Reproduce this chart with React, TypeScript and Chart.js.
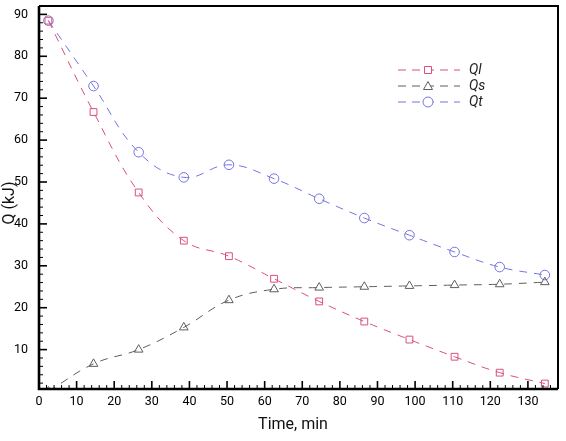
import React, { useEffect, useRef } from "react";
import { Chart, registerables } from "chart.js";

Chart.register(...registerables);

const times = [2.5, 14.5, 26.5, 38.5, 50.5, 62.5, 74.5, 86.5, 98.5, 110.5, 122.5, 134.5];
const qlValues = [88.5, 66.7, 47.5, 36.0, 32.3, 26.9, 21.5, 16.7, 12.4, 8.3, 4.5, 1.9];
const qsValues = [0, 6.6, 10.0, 15.3, 21.8, 24.4, 24.8, 25.0, 25.2, 25.4, 25.6, 26.1];
const qtValues = [88.5, 72.9, 57.1, 51.1, 54.1, 50.8, 46.0, 41.4, 37.3, 33.3, 29.7, 27.8];
const seriesNames = ["Ql", "Qs", "Qt"];
const xTickValues = [0, 10, 20, 30, 40, 50, 60, 70, 80, 90, 100, 110, 120, 130];
const yTickValues = [10, 20, 30, 40, 50, 60, 70, 80, 90];

const QL_COLOR = "#d9507c";
const QS_COLOR = "#5e5e5e";
const QT_COLOR = "#7474e0";

const toPoints = (ys: number[]) => ys.map((y, i) => ({ x: times[i], y }));

// ticks pointing inward, box frame, axis titles and the in-plot legend
const framePlugin = {
  id: "frame",
  afterDraw(chart: any) {
    const { ctx, chartArea: a, scales } = chart;
    const xs = scales.x;
    const ys = scales.y;
    ctx.save();
    ctx.strokeStyle = "#000";

    for (let v = 0; v <= 138; v += 2) {
      const px = xs.getPixelForValue(v);
      const major = v % 10 === 0;
      ctx.lineWidth = major ? 1.6 : 1;
      ctx.beginPath();
      ctx.moveTo(px, a.bottom);
      ctx.lineTo(px, a.bottom - (major ? 8 : 4));
      ctx.stroke();
    }
    for (let v = 2; v <= 92; v += 2) {
      const py = ys.getPixelForValue(v);
      const major = v % 10 === 0;
      ctx.lineWidth = major ? 1.6 : 1;
      ctx.beginPath();
      ctx.moveTo(a.left, py);
      ctx.lineTo(a.left + (major ? 8 : 4), py);
      ctx.stroke();
    }

    ctx.lineWidth = 2;
    ctx.beginPath();
    ctx.moveTo(a.left, a.top);
    ctx.lineTo(a.right, a.top);
    ctx.lineTo(a.right, a.bottom);
    ctx.stroke();
    ctx.lineWidth = 2.6;
    ctx.beginPath();
    ctx.moveTo(a.left, a.top);
    ctx.lineTo(a.left, a.bottom);
    ctx.lineTo(a.right, a.bottom);
    ctx.stroke();

    // axis titles
    ctx.fillStyle = "#111";
    ctx.font = "16px Roboto";
    ctx.textAlign = "center";
    ctx.textBaseline = "middle";
    ctx.fillText("Time, min", 293, 425);
    ctx.save();
    ctx.translate(10, 203);
    ctx.rotate(-Math.PI / 2);
    ctx.fillText("Q (kJ)", 0, 0);
    ctx.restore();

    // legend
    chart.data.datasets.forEach((ds: any, i: number) => {
      const y = 70 + i * 16;
      ctx.strokeStyle = ds.borderColor;
      ctx.lineWidth = 1;
      ctx.setLineDash([8, 6]);
      ctx.beginPath();
      ctx.moveTo(398, y);
      ctx.lineTo(460, y);
      ctx.stroke();
      ctx.setLineDash([]);
      ctx.fillStyle = "#fff";
      ctx.beginPath();
      if (ds.pointStyle === "rect") {
        ctx.rect(424.5, y - 3.5, 7, 7);
      } else if (ds.pointStyle === "triangle") {
        ctx.moveTo(428, y - 4.5);
        ctx.lineTo(432.5, y + 3.5);
        ctx.lineTo(423.5, y + 3.5);
        ctx.closePath();
      } else {
        ctx.arc(428, y, 5, 0, Math.PI * 2);
      }
      ctx.fill();
      ctx.stroke();
      ctx.fillStyle = "#222";
      ctx.font = "italic 14px Roboto";
      ctx.textAlign = "left";
      ctx.fillText(ds.label, 469, y);
    });
    ctx.restore();
  },
};

const App = () => {
  const canvasRef = useRef<HTMLCanvasElement>(null);
  const chartRef = useRef<Chart | null>(null);

  useEffect(() => {
    if (chartRef.current) chartRef.current.destroy();
    const ctx = canvasRef.current!.getContext("2d")!;

    const common = {
      showLine: true,
      borderWidth: 1,
      borderDash: [8, 7],
      tension: 0.4,
      pointBackgroundColor: "rgba(255,255,255,0)",
      pointBorderWidth: 1,
      clip: 0,
    };

    chartRef.current = new Chart(ctx, {
      type: "scatter",
      data: {
        datasets: [
          {
            ...common,
            label: seriesNames[0],
            data: toPoints(qlValues),
            borderColor: QL_COLOR,
            pointBorderColor: QL_COLOR,
            pointStyle: "rect",
            pointRadius: 4.8,
          },
          {
            ...common,
            label: seriesNames[1],
            data: toPoints(qsValues),
            borderColor: QS_COLOR,
            pointBorderColor: QS_COLOR,
            pointStyle: "triangle",
            pointRadius: 5,
          },
          {
            ...common,
            label: seriesNames[2],
            data: toPoints(qtValues),
            borderColor: QT_COLOR,
            pointBorderColor: QT_COLOR,
            pointStyle: "circle",
            pointRadius: 4.8,
          },
        ],
      } as any,
      options: {
        animation: false,
        responsive: true,
        maintainAspectRatio: false,
        layout: { padding: { top: 6, right: 8, left: 0, bottom: 0 } },
        plugins: {
          legend: { display: false },
          tooltip: { enabled: false },
        },
        scales: {
          x: {
            type: "linear",
            min: 0,
            max: 138,
            grid: { display: false, drawTicks: false },
            border: { display: false },
            afterBuildTicks: (s: any) => {
              s.ticks = xTickValues.map((value) => ({ value }));
            },
            afterFit: (s: any) => {
              s.height = 52;
              s.paddingLeft = 0;
              s.paddingRight = 0;
            },
            ticks: {
              padding: 5,
              color: "#000",
              font: { family: "Roboto", size: 12.5 },
              maxRotation: 0,
              autoSkip: false,
            },
          },
          y: {
            type: "linear",
            min: 0.6,
            max: 92,
            grid: { display: false, drawTicks: false },
            border: { display: false },
            afterBuildTicks: (s: any) => {
              s.ticks = yTickValues.map((value) => ({ value }));
            },
            afterFit: (s: any) => {
              s.width = 39;
              s.paddingTop = 0;
              s.paddingBottom = 0;
            },
            ticks: {
              padding: 11,
              color: "#000",
              font: { family: "Roboto", size: 12.5 },
              autoSkip: false,
            },
          },
        },
      } as any,
      plugins: [framePlugin],
    });

    return () => {
      if (chartRef.current) {
        chartRef.current.destroy();
        chartRef.current = null;
      }
    };
  }, []);

  return (
    <div style={{ width: 566, height: 441, background: "#fff" }}>
      <style>{"body{margin:0}"}</style>
      <canvas ref={canvasRef}></canvas>
    </div>
  );
};

export default App;
